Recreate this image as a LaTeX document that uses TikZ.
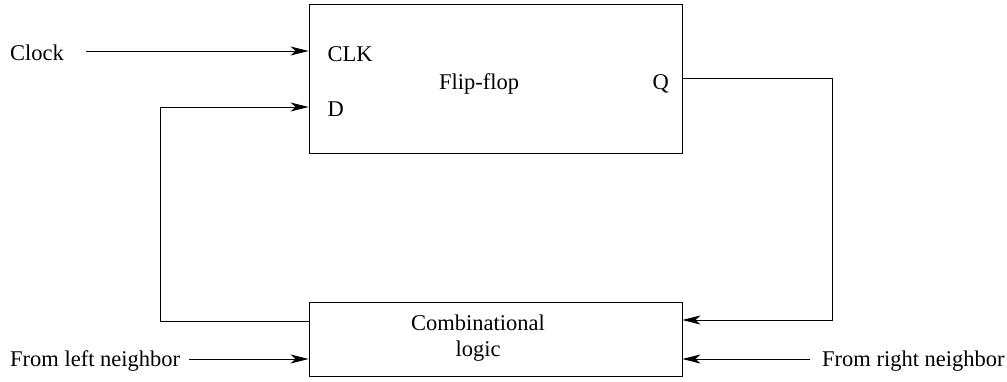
\documentclass[tikz,border=0pt]{standalone}
\usepackage{fontspec}
\setmainfont{Liberation Serif}
\usetikzlibrary{arrows.meta}
\begin{document}
\begin{tikzpicture}[x=1pt,y=-1pt,
  font=\fontsize{22.5}{26}\selectfont,
  blk/.style={draw, line width=0.9pt, inner sep=0pt},
  lbl/.style={inner sep=0pt},
  wire/.style={line width=0.9pt},
  arr/.style={wire, -{Stealth[length=18pt,width=9pt,inset=5pt]}}]
\useasboundingbox (0,0) rectangle (1007,381);
% blocks
\node[blk, minimum width=373pt, minimum height=149pt] (ff) at (495.5,78.5) {};
\node[blk, minimum width=373pt, minimum height=74pt] (cl) at (495.5,339) {};
% block texts
\node[lbl, anchor=base] (fft) at (479,89.3) {Flip-flop};
\node[lbl, anchor=base west] (clk) at (327.5,61) {CLK};
\node[lbl, anchor=base west] (dd) at (327.5,116.7) {D};
\node[lbl, anchor=base east] (qq) at (669,89.3) {Q};
\node[lbl, anchor=base, align=center] (c1) at (478,330) {Combinational};
\node[lbl, anchor=base] (c2) at (478,356.7) {logic};
% outside labels
\node[lbl, anchor=base west] (clock) at (10,60) {Clock};
\node[lbl, anchor=base west] (fl) at (10,366.7) {From left neighbor};
\node[lbl, anchor=base west] (fr) at (822,366.7) {From right neighbor};
% coordinates
\coordinate (clks) at (86,51);
\coordinate (dport) at (309,107);
\coordinate (dl) at (160,107);
\coordinate (dlo) at (160,321);
\coordinate (qport) at (682,78);
\coordinate (qr) at (832,78);
\coordinate (qro) at (832,320);
\coordinate (fls) at (189,359);
\coordinate (frs) at (810,359);
% connectors
\draw[arr] (clks) -- (ff.west |- clks);
\draw[arr] (cl.west |- dlo) -- (dlo) -- (dl) -- (ff.west |- dport);
\draw[arr] (ff.east |- qport) -- (qr) -- (qro) -- (cl.east |- qro);
\draw[arr] (fls) -- (cl.west |- fls);
\draw[arr] (frs) -- (cl.east |- frs);
\end{tikzpicture}
\end{document}
